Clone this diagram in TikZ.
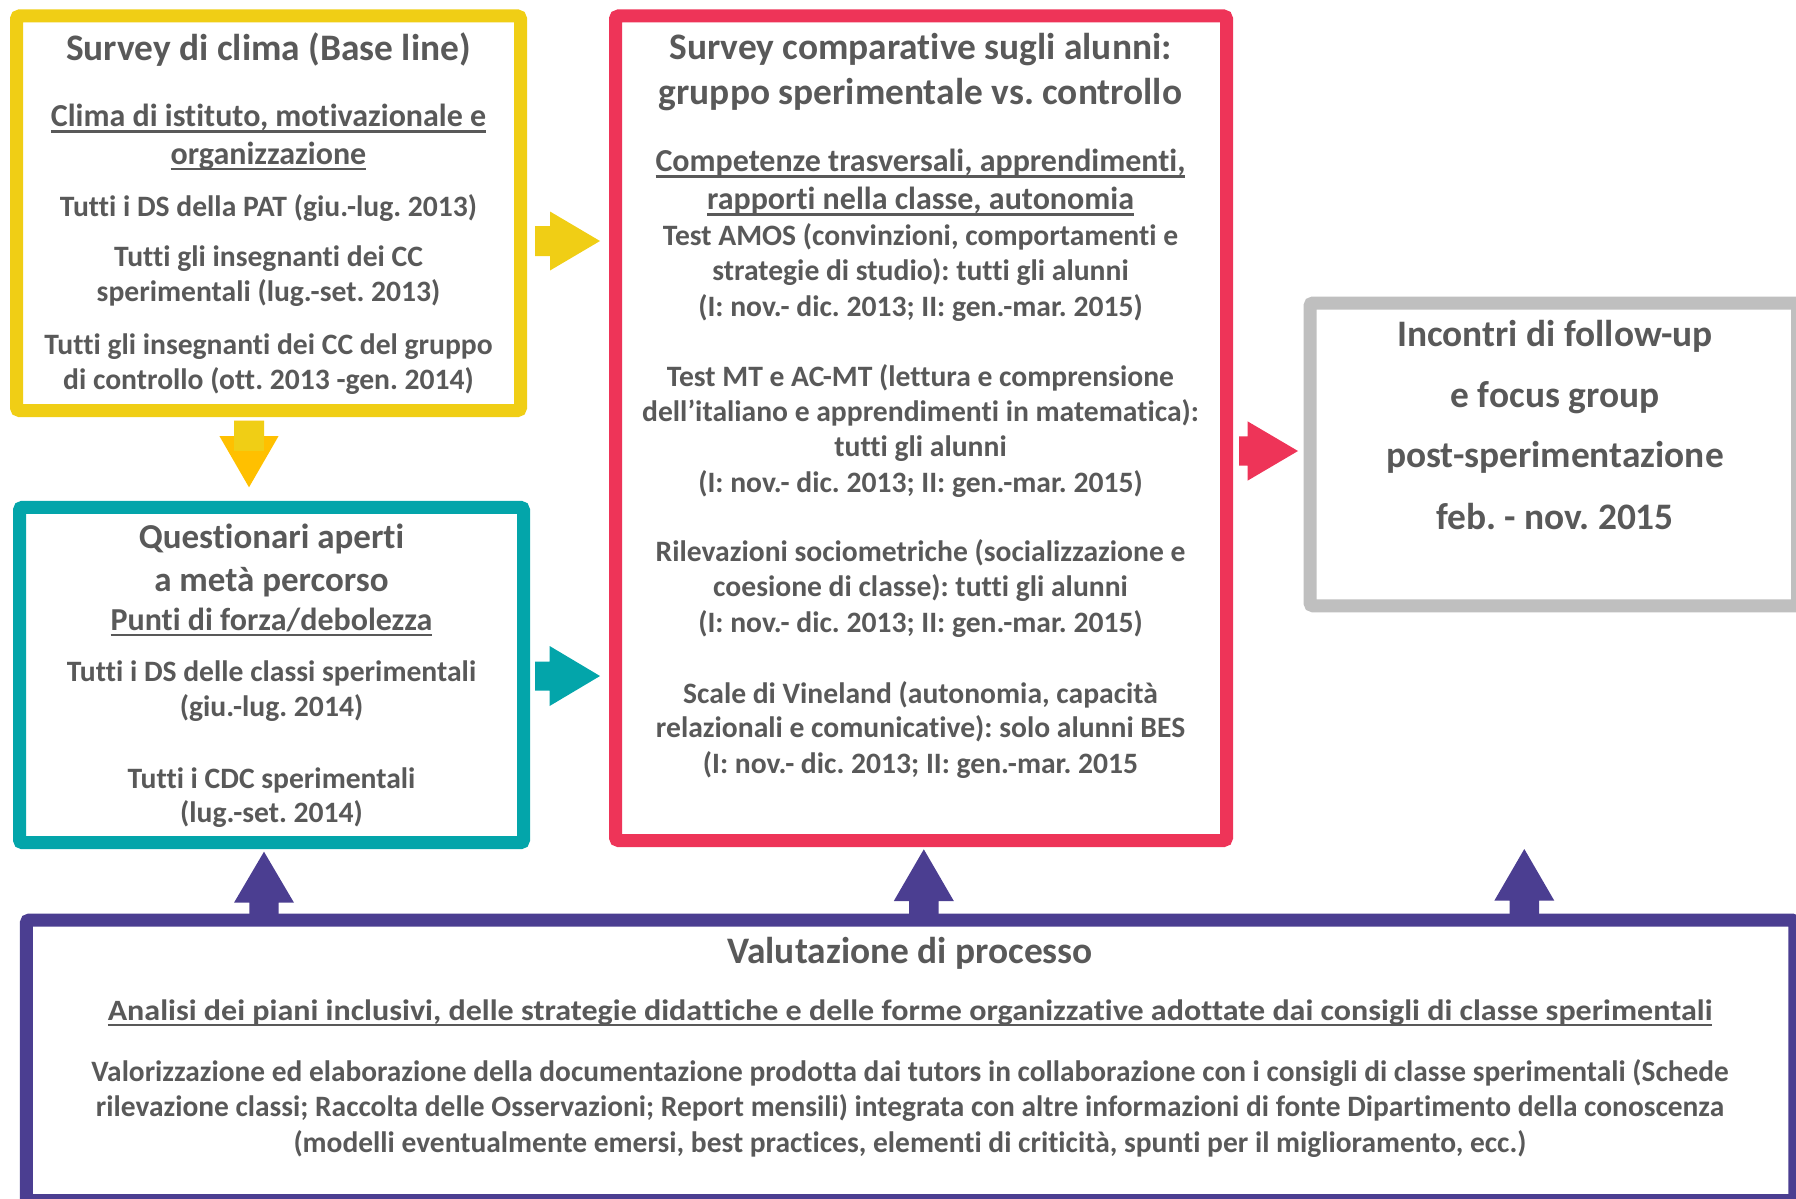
\documentclass[tikz,border=0pt]{standalone}
\usepackage{fontspec}
\usepackage{graphicx}
\setmainfont{Carlito}[Ligatures=NoCommon]
\usetikzlibrary{calc}
\frenchspacing
\definecolor{txt}{HTML}{595959}
\definecolor{cyel}{HTML}{F0CE15}
\definecolor{corg}{HTML}{FFC000}
\definecolor{cteal}{HTML}{03A5AA}
\definecolor{cred}{HTML}{EE3458}
\definecolor{cgrey}{HTML}{BFBFBF}
\definecolor{cpur}{HTML}{4B3E91}
\newbox\myulbox
\newcommand\ulx[1]{\setbox\myulbox\hbox{#1}\rlap{\rule[-6.3pt]{\wd\myulbox}{2.6pt}}\box\myulbox}
\newbox\myfitbox
\newcommand\fitw[2]{\setbox\myfitbox\hbox{#2}\pgfmathsetmacro\myfr{#1/\the\wd\myfitbox}\scalebox{\myfr}[1]{\box\myfitbox}}
\newcommand\ftitle{\fontsize{37.4}{45}\selectfont\bfseries\frenchspacing}
\newcommand\ftitleb{\fontsize{35}{42}\selectfont\bfseries\frenchspacing}
\newcommand\fsub{\fontsize{32}{39}\selectfont\bfseries\frenchspacing}
\newcommand\fbody{\fontsize{29.6}{35}\selectfont\bfseries\frenchspacing}
\newcommand\fpsub{\fontsize{29.5}{35}\selectfont\bfseries\frenchspacing}
\newcommand\blockarrow[6]{%
 \path ($(#3)!#6pt!(#2)$) coordinate (bahead);
 \fill[#1] ($(#2)!#4pt!90:(#3)$) -- ($(bahead)!#4pt!-90:(#2)$) -- ($(bahead)!#5pt!-90:(#2)$) -- (#3) -- ($(bahead)!#5pt!90:(#2)$) -- ($(bahead)!#4pt!90:(#2)$) -- ($(#2)!#4pt!-90:(#3)$) -- cycle;}
\tikzset{
 panel/.style={rectangle, draw=#1, line width=13pt, rounded corners=3pt, fill=white, inner sep=0pt},
 tl/.style={anchor=base, inner sep=0pt, outer sep=0pt, text=txt, font=\fbody},
 tt/.style={tl, font=\ftitle},
 ttb/.style={tl, font=\ftitleb},
 ts/.style={tl, font=\fsub},
 tps/.style={tl, font=\fpsub},
}
\begin{document}
\begin{tikzpicture}[x=1pt,y=-1pt]
\useasboundingbox (0,0) rectangle (1796,1199);
\begin{scope}
\clip (0,0) rectangle (1796,1199);
% connector end points
\coordinate (ya0) at (535,241);   \coordinate (ya1) at (600,241);
\coordinate (ta0) at (535,676);   \coordinate (ta1) at (600,676);
\coordinate (ra0) at (1239,451);  \coordinate (ra1) at (1298,451);
\coordinate (da0) at (249,420.7); \coordinate (da1) at (249,487.3);
\coordinate (pa0) at (264,920);   \coordinate (pa1) at (264,851.7);
\coordinate (pb0) at (923.8,920); \coordinate (pb1) at (923.8,849.3);
\coordinate (pc0) at (1524.3,920);\coordinate (pc1) at (1524.3,849);
% block arrows
\blockarrow{cyel}{ya0}{ya1}{15}{29.5}{50}
\blockarrow{cteal}{ta0}{ta1}{14.5}{30}{50.4}
\blockarrow{cred}{ra0}{ra1}{14.7}{29.7}{50.5}
\blockarrow{corg}{da0}{da1}{15}{29.6}{51.3}
\fill[cyel] ($(da0)+(-15,0)$) rectangle ($(da0)+(15,30)$);
\blockarrow{cpur}{pa0}{pa1}{14.7}{30}{51}
\blockarrow{cpur}{pb0}{pb1}{14.7}{30}{51.7}
\blockarrow{cpur}{pc0}{pc1}{14.7}{30}{51.7}
% boxes
\node[panel=cyel, minimum width=504pt, minimum height=394.5pt] (ybox) at (268.5,213.25) {};
\node[panel=cteal, minimum width=504pt, minimum height=335.4pt] (tbox) at (271.5,675) {};
\node[panel=cred, minimum width=611pt, minimum height=824.5pt] (rbox) at (921,428.25) {};
\node[panel=cgrey, minimum width=487.5pt, minimum height=302.8pt] (gbox) at (1553.75,454.4) {};
\node[panel=cpur, minimum width=1768.5pt, minimum height=280.5pt] (pbox) at (910.65,1060.25) {};
\end{scope}
% yellow box text
\node[tt] (y1) at (268.5,60) {Survey di clima (Base line)};
\node[ts] (y2) at (268.5,126.7) {\ulx{Clima di istituto, motivazionale e}};
\node[ts] (y3) at (268.5,164) {\ulx{organizzazione}};
\node[tl] (y4) at (268.5,216) {Tutti i DS della PAT (giu.-lug. 2013)};
\node[tl] (y5) at (268.5,266.7) {Tutti gli insegnanti dei CC};
\node[tl] (y6) at (268.5,301.7) {sperimentali (lug.-set. 2013)};
\node[tl] (y7) at (268.5,354) {Tutti gli insegnanti dei CC del gruppo};
\node[tl] (y8) at (268.5,389.3) {di controllo (ott. 2013 -gen. 2014)};
% teal box text
\node[ttb] (t1) at (271.5,548.3) {Questionari aperti};
\node[ttb] (t2) at (271.5,591.7) {a metà percorso};
\node[ts] (t3) at (271.5,630) {\ulx{Punti di forza/debolezza}};
\node[tl] (t4) at (271.5,681.7) {Tutti i DS delle classi sperimentali};
\node[tl] (t5) at (271.5,716.7) {(giu.-lug. 2014)};
\node[tl] (t6) at (271.5,788.3) {Tutti i CDC sperimentali};
\node[tl] (t7) at (271.5,822.7) {(lug.-set. 2014)};
% red box text
\node[tt] (r1) at (920.5,59.3) {Survey comparative sugli alunni:};
\node[tt] (r2) at (920.5,104) {gruppo sperimentale vs. controllo};
\node[ts] (r3) at (920.5,171.7) {\ulx{Competenze trasversali, apprendimenti,}};
\node[ts] (r4) at (920.5,209.3) {\ulx{rapporti nella classe, autonomia}};
\node[tl] (r5) at (920.5,245) {Test AMOS (convinzioni, comportamenti e};
\node[tl] (r6) at (920.5,280) {strategie di studio): tutti gli alunni};
\node[tl] (r7) at (920.5,316) {(I: nov.- dic. 2013; II: gen.-mar. 2015)};
\node[tl] (r8) at (920.5,386.7) {Test MT e AC-MT (lettura e comprensione};
\node[tl] (r9) at (920.5,421) {dell’italiano e apprendimenti in matematica):};
\node[tl] (r10) at (920.5,456.5) {tutti gli alunni};
\node[tl] (r11) at (920.5,492.7) {(I: nov.- dic. 2013; II: gen.-mar. 2015)};
\node[tl] (r12) at (920.5,561.7) {Rilevazioni sociometriche (socializzazione e};
\node[tl] (r13) at (920.5,596.7) {coesione di classe): tutti gli alunni};
\node[tl] (r14) at (920.5,632.7) {(I: nov.- dic. 2013; II: gen.-mar. 2015)};
\node[tl] (r15) at (920.5,703.3) {Scale di Vineland (autonomia, capacità};
\node[tl] (r16) at (920.5,737.7) {relazionali e comunicative): solo alunni BES};
\node[tl] (r17) at (920.5,773.3) {(I: nov.- dic. 2013; II: gen.-mar. 2015};
% grey box text
\node[tt] (g1) at (1555,346.7) {Incontri di follow-up};
\node[tt] (g2) at (1555,407.7) {e focus group};
\node[tt] (g3) at (1555,467.7) {post-sperimentazione};
\node[tt] (g4) at (1555,529.3) {feb. - nov. 2015};
% purple box text
\node[tt] (p1) at (910,963.3) {Valutazione di processo};
\node[tps] (p2) at (910,1020) {\fitw{1604.4}{\ulx{Analisi dei piani inclusivi, delle strategie didattiche e delle forme organizzative adottate dai consigli di classe sperimentali}}};
\node[tl] (p3) at (910,1081.7) {\fitw{1637}{Valorizzazione ed elaborazione della documentazione prodotta dai tutors in collaborazione con i consigli di classe sperimentali (Schede}};
\node[tl] (p4) at (910,1116.7) {\fitw{1628}{rilevazione classi; Raccolta delle Osservazioni; Report mensili) integrata con altre informazioni di fonte Dipartimento della conoscenza}};
\node[tl] (p5) at (910,1152.7) {\fitw{1233}{(modelli eventualmente emersi, best practices, elementi di criticità, spunti per il miglioramento, ecc.)}};
\end{tikzpicture}
\end{document}
